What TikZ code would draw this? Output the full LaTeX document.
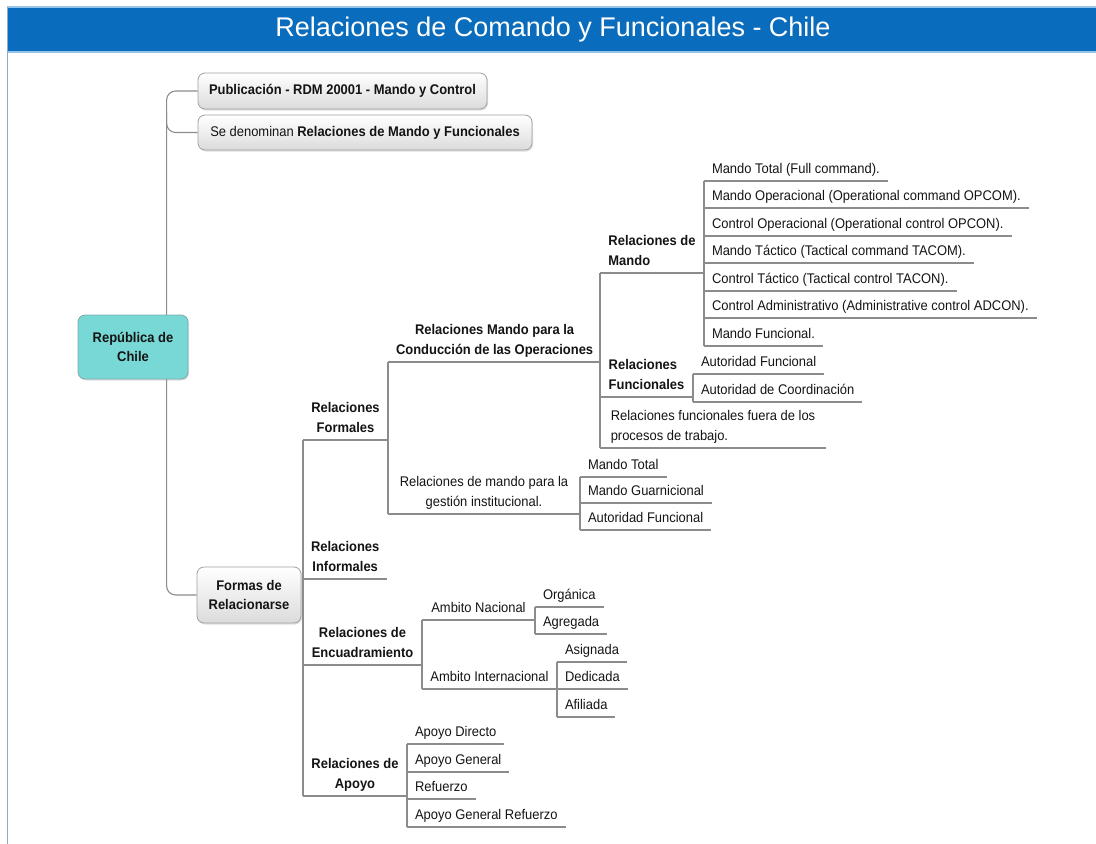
\documentclass[tikz,border=0pt]{standalone}
\usepackage{fontspec}
\setmainfont{Liberation Sans}[FakeStretch=0.925]
\newfontfamily\titlefont{Liberation Sans}
\usetikzlibrary{shadows}
\definecolor{barblue}{RGB}{10,108,188}
\definecolor{baredge}{RGB}{150,196,232}
\definecolor{frameblue}{RGB}{136,174,204}
\definecolor{linegray}{RGB}{140,140,140}
\definecolor{boxgray}{RGB}{160,160,160}
\definecolor{rootfill}{RGB}{120,216,214}
\definecolor{rootline}{RGB}{125,170,170}
\definecolor{ink}{RGB}{20,20,20}

\begin{document}
\begin{tikzpicture}[x=1pt, y=-1pt,
            every node/.style={text=ink, font=\fontsize{14}{19.5}\selectfont},
            branch/.style={draw=linegray, line width=1.1pt},
            box/.style={draw=boxgray, line width=0.8pt, rounded corners=7pt, top color=white, bottom color=black!14,
                align=center, font=\fontsize{14}{19.5}\selectfont\bfseries,
                drop shadow={shadow xshift=1pt, shadow yshift=-1.5pt, opacity=0.25}},
            lbl/.style={anchor=south west, inner xsep=8pt, inner ysep=5pt, outer sep=0pt,
                execute at end node=\vphantom{p},
                append after command={(\tikzlastnode.south west) edge[branch] (\tikzlastnode.south east)}},
            head/.style={lbl, align=center, font=\fontsize{14}{19.5}\selectfont\bfseries},
            ]
            \useasboundingbox (0,0) rectangle (1096,844);

            \fill[barblue] (7,7) rectangle (1096,52);
            \draw[baredge, line width=1.5pt] (7,7) -- (1096,7);
            \draw[baredge, line width=1.5pt] (7,52) -- (1096,52);
            \draw[frameblue, line width=1.5pt] (7.5,7) -- (7.5,844);
            \node[text=white, font=\titlefont\fontsize{27}{31}\selectfont] (title) at (553,30) {Relaciones de Comando y Funcionales - Chile};

            \node[box, minimum width=289pt, minimum height=36pt] (pub) at (342.5,91) {Publicación - RDM 20001 - Mando y Control};
            \node[box, minimum width=334pt, minimum height=35pt, font=\fontsize{14}{19.5}\selectfont] (den) at (365,132.5) {Se denominan \textbf{Relaciones de Mando y Funcionales}};
            \node[box, minimum width=104pt, minimum height=56pt] (formas) at (249,595) {Formas de\\Relacionarse};

            \draw[branch, rounded corners=9pt] (pub.west) -- ++(-31,0) |- (formas.west);
            \draw[branch, rounded corners=9pt] (den.west) -- ++(-31,0) -- ++(0,-20);

            \node[box, draw=rootline, top color=rootfill, bottom color=rootfill, minimum width=110pt, minimum height=64pt] (root) at (133,347) {República de\\Chile};

            \node[head, minimum width=85pt] (rf) at (303,440) {Relaciones\\Formales};
            \node[head, minimum width=84pt] (ri) at (303,579) {Relaciones\\Informales};
            \node[head, minimum width=119pt] (re) at (303,665) {Relaciones de\\Encuadramiento};
            \node[head, minimum width=104pt] (ra) at (303,796) {Relaciones de\\Apoyo};

            \node[head, minimum width=212pt] (rmc) at (388,362) {Relaciones Mando para la\\Conducción de las Operaciones};
            \node[lbl, align=center, minimum width=192pt] (rmg) at (388,514) {Relaciones de mando para la\\gestión institucional.};

            \node[head, align=left, minimum width=104pt] (rdm) at (600,273) {Relaciones de\\Mando};
            \node[head, align=left, minimum width=93pt] (rfu) at (600,397) {Relaciones\\Funcionales};
            \node[lbl, align=left, minimum width=226pt] (rff) at (600,448) {Relaciones funcionales fuera de los\\procesos de trabajo.};

            \node[lbl] (mto) at (704,181) {Mando Total (Full command).};
            \node[lbl] (mop) at (704,208) {Mando Operacional (Operational command OPCOM).};
            \node[lbl] (cop) at (704,236) {Control Operacional (Operational control OPCON).};
            \node[lbl] (mta) at (704,263) {Mando Táctico (Tactical command TACOM).};
            \node[lbl] (cta) at (704,291) {Control Táctico (Tactical control TACON).};
            \node[lbl] (cad) at (704,318) {Control Administrativo (Administrative control ADCON).};
            \node[lbl] (mfu) at (704,346) {Mando Funcional.};

            \node[lbl] (afu) at (693,374) {Autoridad Funcional};
            \node[lbl] (aco) at (693,402) {Autoridad de Coordinación};

            \node[lbl] (mtg) at (580,477) {Mando Total};
            \node[lbl] (mgu) at (580,503) {Mando Guarnicional};
            \node[lbl] (afg) at (580,530) {Autoridad Funcional};

            \node[lbl, minimum width=113pt] (an) at (422,620) {Ambito Nacional};
            \node[lbl, minimum width=135pt] (ai) at (422,689) {Ambito Internacional};

            \node[lbl] (org) at (535,607) {Orgánica};
            \node[lbl] (agr) at (535,634) {Agregada};

            \node[lbl] (asi) at (557,662) {Asignada};
            \node[lbl] (ded) at (557,689) {Dedicada};
            \node[lbl] (afi) at (557,717) {Afiliada};

            \node[lbl] (adi) at (407,744) {Apoyo Directo};
            \node[lbl] (age) at (407,772) {Apoyo General};
            \node[lbl] (ref) at (407,799) {Refuerzo};
            \node[lbl] (agr2) at (407,827) {Apoyo General Refuerzo};

            \draw[branch] (rf.south west) -- (ra.south west);
            \draw[branch] (rmc.south west) -- (rmg.south west);
            \draw[branch] (rdm.south west) -- (rff.south west);
            \draw[branch] (mto.south west) -- (mfu.south west);
            \draw[branch] (afu.south west) -- (aco.south west);
            \draw[branch] (mtg.south west) -- (afg.south west);
            \draw[branch] (an.south west) -- (ai.south west);
            \draw[branch] (org.south west) -- (agr.south west);
            \draw[branch] (asi.south west) -- (afi.south west);
            \draw[branch] (adi.south west) -- (agr2.south west);
        \end{tikzpicture}
\end{document}
